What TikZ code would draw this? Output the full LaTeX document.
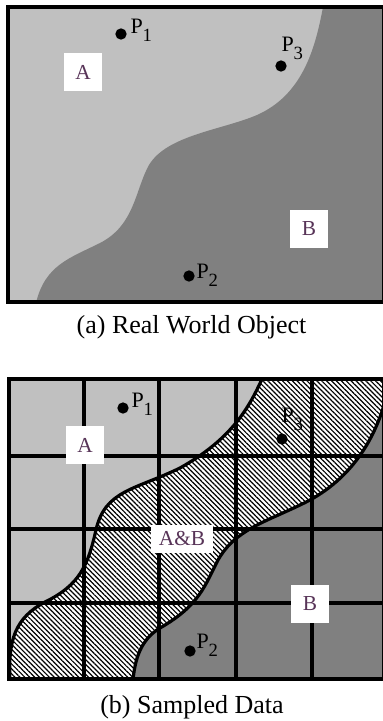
\documentclass[tikz,border=0pt]{standalone}
\usepackage{fontspec}
\setmainfont{Liberation Serif}
\usetikzlibrary{patterns.meta}

\definecolor{lightarea}{RGB}{192,192,192}
\definecolor{darkarea}{RGB}{128,128,128}
\definecolor{labelpurple}{RGB}{88,52,88}
\newcommand{\psub}[1]{P\raisebox{-6.5pt}{\fontsize{14}{14}\selectfont #1}}

\tikzset{every picture/.style={line width=0.75pt}}
\tikzset{
  frameline/.style={line width=2.4pt},
  regionlabel/.style={fill=white, text=labelpurple, font=\fontsize{16}{19}\selectfont, inner sep=0pt, minimum width=28.5pt, minimum height=28.5pt},
  ptdot/.style={circle, fill=black, inner sep=0pt, minimum size=8.5pt},
  ptname/.style={anchor=base west, inner sep=0pt, font=\fontsize{16.5}{19}\selectfont},
  caption/.style={anchor=base, inner sep=0pt, font=\fontsize{19.5}{23}\selectfont},
  hatched/.style={pattern={Lines[angle=-45,distance=2.6pt,line width=0.9pt]}, pattern color=black}
}

\begin{document}
\begin{tikzpicture}[x=0.75pt,y=0.75pt,yscale=-1,xscale=1]
\useasboundingbox (0,0) rectangle (382,721);

%Panel (a): regions
\begin{scope}
\clip (8,7) rectangle (383,302);
\fill[lightarea] (8,7) rectangle (383,302);
\fill[darkarea] (323,7) .. controls (315,50) and (302,95) .. (257,115) .. controls (222,130) and (167,135) .. (149,165) .. controls (135,190) and (135,225) .. (100,243) .. controls (70,258) and (45,265) .. (36,303) -- (383,303) -- (383,7) -- cycle ;
\end{scope}
%Panel (a): frame
\draw[frameline] (8,7) rectangle (383.5,302);

%Panel (b): regions
\begin{scope}
\clip (9,379) rectangle (384,679);
\fill[lightarea] (9,379) rectangle (384,679);
\fill[darkarea] (133,680) .. controls (135,660) and (140,640) .. (160,628) .. controls (200,605) and (205,585) .. (218,560) .. controls (235,530) and (265,522) .. (300,505) .. controls (350,482) and (375,440) .. (386,398) -- (386,680) -- cycle ;
\fill[white] (262,379) .. controls (248,410) and (230,440) .. (180,468) .. controls (135,490) and (105,490) .. (96,530) .. controls (88,565) and (80,585) .. (45,602) .. controls (15,618) and (8,640) .. (10,680) -- (133,680) .. controls (135,660) and (140,640) .. (160,628) .. controls (200,605) and (205,585) .. (218,560) .. controls (235,530) and (265,522) .. (300,505) .. controls (350,482) and (375,440) .. (386,398) -- (386,379) -- cycle ;
\fill[hatched] (262,379) .. controls (248,410) and (230,440) .. (180,468) .. controls (135,490) and (105,490) .. (96,530) .. controls (88,565) and (80,585) .. (45,602) .. controls (15,618) and (8,640) .. (10,680) -- (133,680) .. controls (135,660) and (140,640) .. (160,628) .. controls (200,605) and (205,585) .. (218,560) .. controls (235,530) and (265,522) .. (300,505) .. controls (350,482) and (375,440) .. (386,398) -- (386,379) -- cycle ;
%Panel (b): grid
\foreach \gx in {84,159,236,312}
  \draw[frameline] (\gx,379) -- (\gx,679) ;
\foreach \gy in {456,529,603}
  \draw[frameline] (9,\gy) -- (384,\gy) ;
%Panel (b): borders of A&B
\draw[frameline] (262,379) .. controls (248,410) and (230,440) .. (180,468) .. controls (135,490) and (105,490) .. (96,530) .. controls (88,565) and (80,585) .. (45,602) .. controls (15,618) and (8,640) .. (10,680) ;
\draw[frameline] (133,680) .. controls (135,660) and (140,640) .. (160,628) .. controls (200,605) and (205,585) .. (218,560) .. controls (235,530) and (265,522) .. (300,505) .. controls (350,482) and (375,440) .. (386,398) ;
\end{scope}
%Panel (b): frame
\draw[frameline] (9,379) rectangle (384,679);

% Text Node
\node[regionlabel] (regA) at (83,72) {A};
% Text Node
\node[regionlabel] (regB) at (309,229) {B};
% Text Node
\node[regionlabel] (sampA) at (85,445) {A};
% Text Node
\node[regionlabel, minimum width=46.5pt, minimum height=21pt] (sampAB) at (182,539) {A\&B};
% Text Node
\node[regionlabel] (sampB) at (310,604) {B};

%Points
\node[ptdot] (p1) at (121,34) {};
\node[ptdot] (p3) at (281,66) {};
\node[ptdot] (p2) at (189,276) {};
\node[ptdot] (q1) at (123,408) {};
\node[ptdot] (q3) at (282,439) {};
\node[ptdot] (q2) at (190,651) {};
% Text Node
\node[ptname] (p1name) at (130,33) {\psub{1}};
\node[ptname] (p3name) at (281,51) {\psub{3}};
\node[ptname] (p2name) at (196,278) {\psub{2}};
\node[ptname] (q1name) at (131,407) {\psub{1}};
\node[ptname] (q3name) at (281,422) {\psub{3}};
\node[ptname] (q2name) at (196,648) {\psub{2}};

% Text Node
\node[caption] (capA) at (191.5,333) {(a) Real World Object};
% Text Node
\node[caption] (capB) at (192,713) {(b) Sampled Data};

\end{tikzpicture}
\end{document}
